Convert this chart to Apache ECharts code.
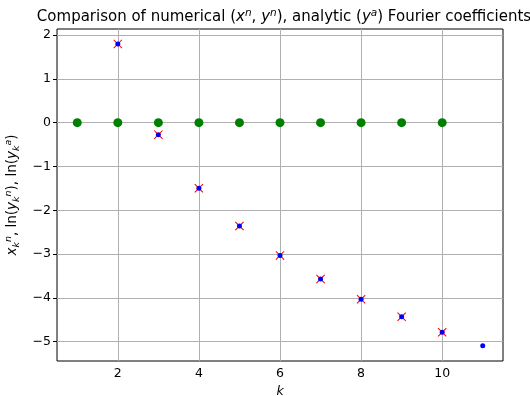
<!DOCTYPE html>
<html>
<head>
<meta charset="utf-8">
<script src="https://cdn.jsdelivr.net/npm/echarts@6/dist/echarts.min.js"></script>
<style>
html,body{margin:0;padding:0;background:#fff;}
#chart{width:530px;height:396px;}
</style>
</head>
<body>
<div id="chart"></div>
<script>
// Data
const kGreen = [1, 2, 3, 4, 5, 6, 7, 8, 9, 10];
const xn = [0, 0, 0, 0, 0, 0, 0, 0, 0, 0];
const kRed = [2, 3, 4, 5, 6, 7, 8, 9, 10];
const lnYa = [1.797, -0.274, -1.498, -2.36, -3.03, -3.57, -4.03, -4.43, -4.785];
const kBlue = [2, 3, 4, 5, 6, 7, 8, 9, 10, 11];
const lnYn = [1.797, -0.274, -1.498, -2.36, -3.03, -3.57, -4.03, -4.43, -4.785, -5.09];
const xTicks = [2, 4, 6, 8, 10];
const yTicks = [-5, -4, -3, -2, -1, 0, 1, 2];

const FONT = 'DejaVu Sans';
const pairs = (xs, ys) => xs.map((x, i) => [x, ys[i]]);
const xShape = 'path://M0,0.8 L0.8,0 L5,4.2 L9.2,0 L10,0.8 L5.8,5 L10,9.2 L9.2,10 L5,5.8 L0.8,10 L0,9.2 L4.2,5 Z';

const chart = echarts.init(document.getElementById('chart'), null, {renderer: 'canvas'});
chart.setOption({
  animation: false,
  backgroundColor: '#fff',
  title: {
    text: 'Comparison of numerical ({i|x}{sup|n}, {i|y}{sup|n}), analytic ({i|y}{sup|a}) Fourier coefficients',
    left: 279, top: 3, textAlign: 'center',
    textStyle: {
      fontFamily: FONT, fontSize: 15, fontWeight: 'normal', color: '#000', lineHeight: 19,
      rich: {
        i: {fontFamily: FONT, fontSize: 15, fontStyle: 'italic', color: '#000', lineHeight: 19},
        sup: {fontFamily: FONT, fontSize: 10.5, fontStyle: 'italic', color: '#000', verticalAlign: 'top', lineHeight: 19}
      }
    }
  },
  grid: {left: 57, right: 27, top: 29, bottom: 35, outerBoundsMode: 'none', containLabel: false,
    show: true, borderColor: '#000', borderWidth: 1, backgroundColor: 'transparent'},
  xAxis: {
    type: 'value', min: 0.5, max: 11.5,
    name: 'k', nameLocation: 'middle', nameGap: 24,
    nameTextStyle: {fontFamily: FONT, fontSize: 12.5, fontStyle: 'italic', color: '#000'},
    axisLine: {show: false},
    axisTick: {show: true, inside: false, length: 4, customValues: xTicks, lineStyle: {color: '#000'}},
    axisLabel: {customValues: xTicks, fontFamily: FONT, fontSize: 12.5, color: '#000', margin: 6},
    splitLine: {show: true, lineStyle: {color: '#b0b0b0', width: 1}}
  },
  yAxis: {
    type: 'value', min: -5.44, max: 2.137,
    name: '{i|x}{sub|k}{sup|n}, ln({i|y}{sub|k}{sup|n}), ln({i|y}{sub|k}{sup|a})',
    nameLocation: 'middle', nameGap: 35, nameRotate: 90,
    nameTextStyle: {
      fontFamily: FONT, fontSize: 13.5, color: '#000', lineHeight: 18,
      rich: {
        i: {fontFamily: FONT, fontSize: 13.5, fontStyle: 'italic', color: '#000', lineHeight: 18},
        sub: {fontFamily: FONT, fontSize: 9.5, fontStyle: 'italic', color: '#000', verticalAlign: 'bottom', lineHeight: 18},
        sup: {fontFamily: FONT, fontSize: 9.5, fontStyle: 'italic', color: '#000', verticalAlign: 'top', lineHeight: 18}
      }
    },
    axisLine: {show: false},
    axisTick: {show: true, inside: false, length: 4, customValues: yTicks, lineStyle: {color: '#000'}},
    axisLabel: {customValues: yTicks, fontFamily: FONT, fontSize: 12.5, color: '#000', margin: 6,
      formatter: v => (v < 0 ? '\u2212' + Math.abs(v) : String(v))},
    splitLine: {show: true, lineStyle: {color: '#b0b0b0', width: 1}}
  },
  series: [
    {type: 'scatter', name: 'xn', data: pairs(kGreen, xn), symbol: 'circle', symbolSize: 9, itemStyle: {color: '#008000', opacity: 1}, z: 3},
    {type: 'scatter', name: 'lnYa', data: pairs(kRed, lnYa), symbol: xShape, symbolSize: 9, itemStyle: {color: '#ff0000', opacity: 1}, z: 4},
    {type: 'scatter', name: 'lnYn', data: pairs(kBlue, lnYn), symbol: 'circle', symbolSize: 5, itemStyle: {color: '#0000ff', opacity: 1}, z: 5}
  ]
});
</script>
</body>
</html>
